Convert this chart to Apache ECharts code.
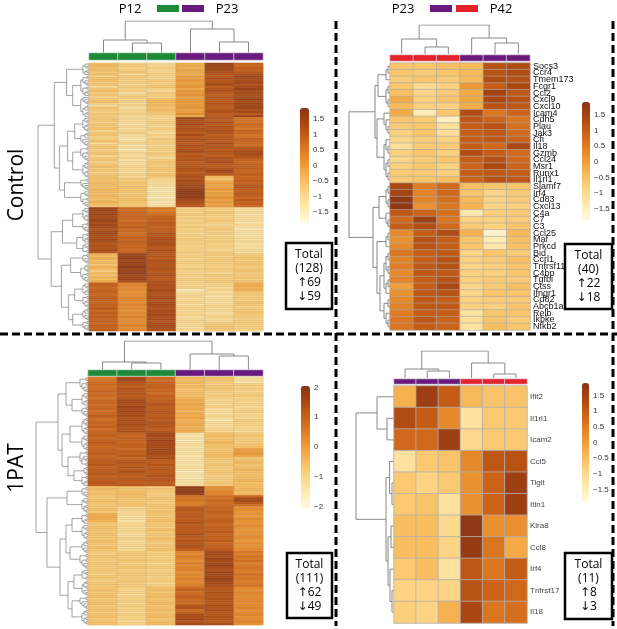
<!DOCTYPE html>
<html>
<head>
<meta charset="utf-8">
<script src="https://cdn.jsdelivr.net/npm/echarts@6.0.0/dist/echarts.min.js"></script>
<style>
  html, body { margin: 0; padding: 0; background: #fff; }
  #chart { width: 617px; height: 629px; }
</style>
</head>
<body>
<div id="chart"></div>
<script>
// ---- data (z-scores, row by row, top to bottom) ----
const groupNames = ['P12', 'P23', 'P42'];
const groupColors = ['#1c8a37', '#6a1a7e', '#e3222b'];
const colLabels = ['1', '2', '3', '4', '5', '6'];

// Control, all genes (128 rows)
const ctrlAllGroups = ['P12', 'P12', 'P12', 'P23', 'P23', 'P23'];
const ctrlAllValues = [
  [-0.5,-0.8,-0.9,-0.3,1.5,0.9], [-0.4,-0.7,-1.0,-0.2,1.6,0.8], [-0.6,-0.9,-0.8,-0.3,1.4,1.0], [-0.5,-0.8,-1.0,-0.1,1.5,0.9],
  [-0.7,-0.6,-0.9,-0.2,1.3,1.1], [-0.5,-1.0,-0.8,-0.3,1.2,1.3], [-0.9,-0.7,-0.9,0.0,1.1,1.5], [-0.6,-0.8,-1.0,-0.1,1.3,1.4],
  [-0.5,-0.9,-0.7,0.1,1.1,1.3], [-0.8,-0.8,-0.9,-0.1,1.2,1.5], [-0.6,-1.1,-0.8,0.0,1.4,1.2], [-1.1,-0.7,-0.6,0.1,1.0,1.4],
  [-0.7,-0.9,-0.9,-0.2,1.2,1.6], [-0.5,-0.8,-1.1,0.1,1.3,1.3], [-0.8,-1.2,-0.7,0.0,1.1,1.5], [-0.6,-0.9,-0.8,0.2,1.0,1.3],
  [-0.9,-0.7,-0.9,-0.1,1.2,1.4], [-0.7,-1.0,-0.5,0.0,1.1,1.6], [-0.5,-0.8,-0.4,0.1,1.0,1.3], [-0.8,-1.1,-0.5,-0.1,1.2,1.5],
  [-1.2,-0.8,-0.4,0.0,1.1,1.4], [-0.6,-1.3,-0.6,0.1,1.0,1.6], [-0.7,-0.9,-0.5,-0.1,1.2,1.2], [-0.9,-1.0,-0.6,0.0,1.3,1.5],
  [-0.6,-0.8,-0.7,0.2,1.0,1.1], [-0.8,-1.1,-0.9,-0.2,1.1,1.6],
  [-0.7,-0.9,-1.0,1.6,1.2,0.6], [-0.6,-1.1,-0.9,1.3,1.0,0.7], [-0.9,-1.0,-0.8,1.2,1.3,0.6], [-0.6,-1.3,-0.9,1.4,1.0,0.8],
  [-0.8,-0.9,-1.1,1.1,1.2,0.7], [-0.5,-1.2,-0.8,1.3,1.1,0.5], [-1.0,-1.0,-0.9,1.2,1.3,0.9], [-0.7,-0.8,-1.2,1.0,1.2,0.8],
  [-0.6,-1.2,-0.8,1.4,1.0,0.6], [-0.9,-1.1,-1.0,1.1,1.1,0.7], [-0.8,-1.4,-0.7,1.3,1.2,1.0], [-0.5,-1.0,-0.9,1.2,1.0,0.9],
  [-1.1,-0.9,-0.8,1.0,1.3,0.8], [-0.7,-1.3,-1.0,1.3,1.1,0.7], [-0.6,-1.0,-0.9,1.1,1.2,1.1], [-0.9,-1.5,-0.8,1.2,1.0,1.2],
  [-0.8,-1.1,-1.0,1.4,1.2,1.3], [-0.6,-1.0,-0.7,1.0,1.1,1.4], [-1.0,-1.2,-0.9,1.2,1.0,1.2], [-0.7,-0.9,-1.1,1.1,1.3,1.1],
  [-0.6,-1.3,-0.8,1.3,1.2,0.9], [-0.9,-1.0,-0.6,1.0,1.4,0.8], [-0.7,-1.2,-0.7,1.2,1.1,1.0], [-0.5,-0.9,-0.8,1.1,1.0,0.9],
  [-0.8,-1.1,-0.6,1.3,1.2,1.0], [-0.6,-1.0,-0.7,1.2,1.5,0.8], [-0.9,-1.2,-0.8,1.0,1.3,0.9], [-0.7,-0.9,-0.6,1.2,1.0,1.0],
  [-0.6,-1.1,-0.7,1.3,-0.4,0.8],
  [-0.5,-0.7,-0.9,1.2,-0.6,0.9], [-0.6,-0.8,-1.0,1.4,-0.3,1.0], [-0.4,-0.6,-1.1,1.3,0.0,0.9], [-0.5,-0.7,-1.0,1.5,-0.2,1.1],
  [-0.6,-0.5,-1.3,1.4,-0.1,1.2], [-0.4,-0.7,-1.2,1.6,0.1,1.0], [-0.5,-0.6,-1.4,1.7,-0.2,0.9], [-0.6,-0.8,-1.2,1.8,0.0,1.1],
  [-0.4,-0.6,-1.3,1.6,-0.1,1.0], [-0.5,-0.7,-1.5,1.7,0.2,0.8], [-0.6,-0.5,-1.2,1.4,-0.1,1.1], [-0.3,-0.6,-1.4,1.3,0.1,0.9],
  [-0.5,-0.7,-1.3,1.2,-0.2,1.0], [-0.6,-0.6,-1.1,1.1,0.0,0.8],
  [1.5,0.8,0.6,-0.9,-0.8,-1.1], [1.6,0.7,0.5,-0.8,-0.9,-1.2], [1.4,0.9,0.6,-0.9,-0.7,-1.0], [1.5,0.8,0.7,-0.7,-0.8,-1.3],
  [1.3,0.9,0.9,-0.9,-0.9,-1.1], [1.4,0.8,1.0,-0.8,-0.8,-1.2], [1.6,0.7,0.9,-1.0,-0.7,-1.1], [1.3,0.9,1.1,-0.8,-0.9,-1.3],
  [1.5,0.8,1.0,-0.9,-1.0,-1.0], [1.4,1.0,0.9,-0.7,-0.8,-1.2], [1.2,0.8,1.1,-0.9,-0.7,-1.4], [1.4,0.9,1.0,-0.8,-0.9,-1.1],
  [1.5,0.7,1.2,-1.0,-0.8,-1.2], [1.3,0.8,1.1,-0.8,-1.0,-1.3], [1.2,0.9,1.2,-0.9,-0.8,-1.1], [1.4,0.8,1.3,-0.7,-0.9,-1.2],
  [1.3,1.0,1.2,-0.9,-0.7,-1.0], [1.1,0.9,1.3,-0.8,-0.9,-1.3], [1.3,0.8,1.2,-1.0,-0.8,-1.1], [1.2,0.9,1.1,-0.8,-0.9,-1.2],
  [1.4,0.8,1.3,-0.9,-1.0,-1.0], [1.2,1.0,1.2,-0.7,-0.8,-1.2],
  [-0.3,1.6,1.1,-0.9,-0.7,-0.8], [-0.5,1.5,1.2,-0.8,-0.9,-0.7], [-0.2,1.7,1.0,-1.0,-0.8,-0.6], [-0.6,1.4,1.3,-0.9,-0.7,-0.8],
  [-0.4,1.6,1.2,-0.8,-0.9,-0.7], [-0.7,1.5,1.1,-0.9,-0.8,-0.6], [-0.3,1.8,1.2,-1.0,-0.9,-0.8], [-0.5,1.5,1.3,-0.8,-0.7,-0.7],
  [-0.8,1.6,1.1,-0.9,-0.8,-0.6], [-0.4,1.7,1.2,-0.9,-1.0,-0.8], [-0.6,1.4,1.3,-0.8,-0.7,-0.7], [-0.3,1.5,1.2,-1.0,-0.9,-0.6],
  [-0.5,1.6,1.1,-0.8,-0.8,-0.8], [-0.2,1.3,1.3,-0.9,-0.7,-0.6],
  [0.9,0.3,1.2,-0.9,-0.9,-0.3], [1.0,0.4,1.3,-1.0,-1.0,-0.2], [0.8,0.2,1.2,-0.8,-1.1,-0.4], [0.9,0.3,1.4,-1.5,-0.9,-0.3],
  [1.0,0.1,1.3,-1.1,-1.2,-0.6], [0.8,0.3,1.2,-1.0,-1.0,-0.7], [0.9,0.2,1.3,-0.9,-1.3,-0.8], [1.1,0.4,1.4,-1.1,-1.0,-0.7],
  [0.9,0.3,1.2,-1.0,-1.1,-0.8], [0.8,0.2,1.3,-0.9,-1.2,-0.6], [1.0,0.4,1.4,-1.2,-1.0,-0.7], [0.9,0.2,1.3,-1.0,-0.9,-0.9],
  [1.1,0.3,1.2,-0.9,-1.1,-0.8], [0.8,0.1,1.4,-1.1,-1.0,-0.7], [1.0,0.3,1.3,-1.0,-1.2,-0.6], [0.9,0.2,1.5,-0.9,-1.0,-0.8],
  [1.1,0.4,1.3,-1.2,-0.9,-0.7], [0.9,0.2,1.4,-1.0,-1.1,-0.9], [1.0,0.3,1.2,-0.9,-1.0,-0.7], [0.8,0.2,1.3,-1.1,-0.8,-0.8],
  [1.0,0.4,1.4,-1.0,-0.7,-0.9], [0.9,0.2,1.3,-1.2,-0.6,-0.8], [1.0,0.3,1.2,-1.0,-0.7,-0.9]
];
// dendrograms: leaf = 0, [a, b] = merge, [h, a, b] = merge at height h
const ctrlAllRowTree = [25,
  [17,
    [11,
      [[0,[0,0]],[[0,0],0]],
      [8, [[[0,0],[0,[0,0]]],[[0,0],[[0,0],0]]], [[0,[0,[0,0]]],[[[0,0],0],[[0,0],0]]]]],
    [14.5,
      [10.5,
        [7, [[0,[0,0]],[[0,0],[0,0]]], [[[0,0],0],[0,[0,[0,0]]]]],
        [8, [[0,0],[[0,0],[0,[0,0]]]], [[[0,0],[0,0]],[[0,0],[0,0]]]]],
      [12, [[0,0],[0,[0,[0,0]]]], [[0,[0,0]],[[0,0],[0,[0,0]]]]]]],
  [18.5,
    [13,
      [8, [[0,[0,0]],[[0,0],[0,0]]], [[0,0],[0,[0,0]]]],
      [6, [[0,0],[[0,0],0]], [[0,[0,0]],[0,0]]]],
    [13.5,
      [9, [[0,0],[0,[0,0]]], [[[0,0],[0,0]],[[0,0],[0,[0,0]]]]],
      [10,
        [7, [[0,[0,0]],[[0,0],0]], [[0,0],[[0,0],[0,0]]]],
        [8, [[[0,0],0],[0,[0,0]]], [[0,0],[0,[0,0]]]]]]]
];
const ctrlAllColTree = [32, [13, 0, [10, 0, 0]], [24, 0, [11, 0, 0]]];

// Control, selected genes (40 rows)
const ctrlSelGroups = ['P42', 'P42', 'P42', 'P23', 'P23', 'P23'];
const ctrlSelGenes = ['Socs3','Ccr4','Tmem173','Fcgr1','Ccl2','Cxcl9','Cxcl10','Icam4','Cdh5','Plau',
  'Jak3','Cfi','Il18','Gzmb','Ccl24','Msr1','Runx1','Il1rl1','Slamf7','Irf4',
  'Cd83','Cxcl13','C4a','C7','C3','Ccl25','Maf','Prkcd','Bid','Ccrl1',
  'Tnfrsf11','C4bp','Tgfbi','Ctss','Ifngr1','Cd82','Abcb1a','Relb','Ikbke','Nfkb2'];
const ctrlSelValues = [
  [-0.6,-0.6,-0.5,-0.4,1.2,1.3], [-0.6,-0.7,-0.6,-0.4,1.2,1.3], [-0.7,-0.6,-0.7,-0.4,1.3,1.2], [-0.6,-1.0,-0.8,0.1,1.0,1.4],
  [-0.5,-0.9,-0.7,-0.2,1.5,1.1], [-0.2,-0.8,-0.6,-0.1,1.4,1.2], [-0.4,-0.8,-0.8,-0.2,1.2,1.1], [-0.2,-1.4,-0.6,1.3,0.6,0.9],
  [-0.6,-0.7,-1.5,1.1,0.9,0.6], [-0.7,-0.6,-1.1,1.0,1.2,0.7], [-0.8,-0.6,-1.1,1.0,1.1,0.8], [-0.9,-0.7,-0.8,1.0,1.1,0.9],
  [-1.1,-0.7,-0.7,1.0,0.8,1.4], [-0.8,-0.6,-0.8,1.3,1.0,0.8], [-0.9,-0.7,-0.6,1.0,1.2,0.8], [-0.8,-0.6,-0.8,0.9,1.4,0.9],
  [-0.7,-0.7,-0.8,1.0,1.1,1.0], [-0.7,-0.6,-0.5,0.9,1.2,1.1], [1.4,0.5,0.8,-0.5,-0.6,-0.6], [1.5,0.4,0.8,-0.6,-0.9,-0.7],
  [1.8,0.4,0.7,-0.4,-0.9,-0.7], [1.8,0.2,0.6,-0.3,-0.9,-0.8], [1.1,0.9,0.7,-1.3,-0.8,-0.7], [0.8,1.6,0.6,-0.8,-0.8,-0.7],
  [1.0,1.3,0.8,-0.7,-0.8,-0.6], [0.3,1.0,1.3,-0.3,-1.6,-0.4], [0.2,1.2,1.0,-0.6,-1.4,-0.5], [0.3,1.2,1.0,-0.6,-1.3,-0.5],
  [0.6,1.0,1.1,-0.9,-0.6,-0.7], [0.4,1.0,1.2,-0.8,-0.7,-0.5], [0.5,1.1,1.2,-0.9,-0.8,-0.6], [0.3,1.1,1.1,-0.8,-0.8,-0.6],
  [0.4,1.0,1.2,-0.8,-0.7,-0.7], [0.0,1.0,1.4,-0.9,-0.7,-0.5], [0.2,1.1,1.2,-0.9,-0.6,-0.6], [0.3,1.1,1.0,-0.8,-0.7,-0.7],
  [0.4,1.1,1.1,-0.8,-0.8,-0.6], [0.5,1.0,1.0,-1.2,-0.6,-0.6], [0.6,1.1,0.9,-1.1,-0.6,-0.7], [0.6,1.0,0.9,-1.2,-0.5,-0.6]
];
const ctrlSelRowTree = [20.5,
  [7.5,
    [6, [[0,0],0], [[0,0],[0,0]]],
    [6.5, [0,[0,[0,0]]], [[0,[0,0]],[[0,0],[0,0]]]]],
  [8.5,
    [5.5, [[0,0],[0,0]], [0,[0,0]]],
    [6.5, [[0,0],0], [5, [[[0,0],[0,0]],[[0,0],0]], [[0,0],[0,[0,0]]]]]]
];
const ctrlSelColTree = [29, [15, 0, [7, 0, 0]], [16, 0, [11, 0, 0]]];

// 1PAT, all genes (111 rows)
const patAllGroups = ['P12', 'P12', 'P12', 'P23', 'P23', 'P23'];
const patAllValues = [
  [0.6,1.5,0.9,-0.5,-0.6,-1.3], [0.7,1.6,0.8,-0.6,-0.7,-1.2], [0.8,1.4,1.0,-0.4,-0.8,-1.4], [0.9,1.2,1.0,-0.6,-0.9,-0.9],
  [0.7,1.1,1.1,-0.5,-0.8,-1.0], [0.8,1.3,0.9,-0.7,-0.7,-0.8], [1.0,1.2,1.0,-0.6,-0.9,-1.1], [0.8,1.4,0.8,-0.5,-1.0,-0.9],
  [0.9,1.1,1.1,-0.7,-0.8,-0.8], [0.7,1.3,1.0,-0.4,-0.9,-1.0],
  [0.9,1.5,1.1,-0.2,-1.1,-0.9], [1.0,1.6,1.2,-0.3,-1.0,-1.1], [0.8,1.4,1.3,-0.1,-1.2,-1.0], [0.9,1.7,1.1,-0.3,-0.9,-1.2],
  [1.0,1.5,1.2,-0.2,-1.3,-1.0], [0.8,1.6,1.3,-0.4,-1.1,-0.9], [0.9,1.4,1.2,-0.2,-1.4,-1.1], [1.1,1.5,1.1,-0.3,-1.0,-1.0],
  [0.9,1.3,1.3,-0.1,-1.2,-1.2], [0.8,1.6,1.2,-0.4,-1.5,-0.8], [1.0,1.4,1.4,-0.3,-1.1,-1.0], [0.9,1.5,1.2,-0.2,-1.3,-0.9],
  [1.1,1.3,1.3,-0.4,-1.2,-1.1], [0.8,1.4,1.1,-0.3,-1.0,-1.0], [1.0,1.5,1.3,-0.2,-1.1,-1.2],
  [1.0,1.0,1.5,-1.4,-0.6,-0.8], [1.1,0.9,1.6,-1.5,-0.5,-0.7], [0.9,1.1,1.4,-1.3,-0.7,-0.9], [1.0,1.0,1.7,-1.6,-0.6,-0.8],
  [1.2,0.9,1.5,-1.4,-0.4,-0.9], [1.0,1.1,1.6,-1.2,-0.7,-0.7], [0.9,1.0,1.5,-1.5,-0.6,-0.6], [1.1,0.9,1.7,-1.3,-0.8,0.0],
  [1.0,1.1,1.5,-1.4,-0.7,-0.1], [1.2,1.0,1.6,-1.2,-0.6,0.1], [0.9,1.2,1.4,-1.5,-0.5,-0.2], [1.1,0.9,1.5,-1.3,-0.7,-0.8],
  [1.2,1.2,1.2,-1.4,-0.8,-0.6], [1.1,1.3,1.1,-1.3,-0.9,-0.5], [1.3,1.1,1.3,-1.5,-0.7,-0.7], [1.0,1.3,1.2,-1.2,-0.8,-0.6],
  [1.2,1.2,1.3,-1.4,-0.9,-0.4], [1.1,1.4,1.1,-1.6,-0.7,-0.6], [1.3,1.2,1.2,-1.3,-0.8,-0.7], [1.0,1.1,1.4,-1.4,-1.0,-0.5],
  [1.2,1.3,1.2,-1.5,-0.8,-0.6], [1.1,1.2,1.3,-1.3,-0.9,-0.4], [1.3,1.1,1.1,-1.4,-0.7,-0.6], [1.1,1.2,1.2,-1.2,-0.8,-0.5],
  [-0.6,-0.6,-0.8,1.9,0.3,-0.5], [-0.5,-0.7,-0.7,1.8,0.2,-0.4], [-0.7,-0.6,-0.8,1.9,0.4,-0.6], [-0.6,-0.5,-0.9,1.7,0.3,-0.5],
  [-0.7,-0.6,-0.8,0.8,0.8,0.9], [-0.8,-0.7,-0.7,0.6,0.7,1.5], [-0.6,-0.8,-0.8,0.7,0.9,1.6], [-0.7,-0.7,-0.9,0.5,0.8,1.2],
  [-0.8,-0.6,-0.7,0.6,0.9,0.8],
  [-0.7,-1.1,-0.7,1.2,1.0,0.2], [-0.6,-1.0,-0.8,1.3,0.9,0.3], [-0.8,-1.2,-0.6,1.1,1.1,0.1], [-0.3,-1.1,-0.7,1.2,1.0,0.2],
  [-0.2,-1.3,-0.8,1.3,0.9,0.0], [-0.3,-1.2,-0.7,1.1,1.0,0.3], [-0.4,-1.4,-0.6,1.2,1.1,0.2], [-0.7,-1.1,-0.8,1.4,1.0,0.1],
  [-0.8,-1.0,-0.7,1.2,0.9,0.3], [-0.6,-1.2,-0.9,1.3,1.1,0.2], [-0.7,-1.1,-0.6,1.1,1.0,0.0], [-0.8,-1.0,-0.8,1.2,1.2,0.2],
  [-0.6,-1.3,-0.7,1.4,1.0,0.1], [-0.7,-1.1,-0.8,1.2,1.1,0.3], [-0.8,-1.0,-0.6,1.1,1.0,0.2], [-0.6,-1.2,-0.7,1.3,1.2,0.0],
  [-0.7,-1.1,-0.9,1.2,0.9,0.3], [-0.8,-1.0,-0.7,1.4,1.1,0.1], [-0.6,-1.2,-0.8,1.2,1.0,0.2], [-0.7,-1.1,-0.6,1.1,1.2,0.3],
  [-0.8,-0.8,-0.9,0.4,1.5,0.6], [-0.9,-0.7,-0.8,0.3,1.6,0.5], [-0.7,-0.9,-1.0,0.5,1.4,0.7], [-0.8,-0.8,-0.9,0.4,1.7,0.6],
  [-0.9,-0.7,-0.8,0.2,1.5,0.8], [-0.7,-0.9,-1.1,0.5,1.6,0.5], [-0.8,-0.8,-0.9,0.3,1.8,0.6], [-0.9,-0.7,-0.8,0.4,1.5,0.7],
  [-0.7,-0.9,-1.0,0.5,1.4,0.6], [-0.8,-0.8,-0.9,0.3,1.7,0.5], [-0.9,-0.7,-0.8,0.4,1.6,0.8], [-0.7,-0.9,-1.0,0.2,1.5,0.6],
  [-0.8,-0.8,-0.9,0.5,1.8,0.7], [-0.9,-0.7,-0.8,0.3,1.6,0.5], [-0.7,-0.9,-1.1,0.4,1.5,0.6], [-0.8,-0.8,-0.9,0.5,1.4,0.7],
  [-0.7,-0.9,-0.6,0.9,1.3,0.3], [-0.6,-1.0,-0.5,1.0,1.2,0.2], [-0.8,-0.9,-0.7,0.8,1.4,0.4], [-0.7,-1.2,-0.6,0.9,1.3,0.3],
  [-0.6,-0.9,-0.5,1.1,1.2,0.2], [-0.8,-1.0,-0.7,0.9,1.4,0.3], [-0.7,-0.9,-0.6,1.0,1.3,0.4], [-0.6,-1.1,-0.5,0.8,1.2,0.2],
  [-0.8,-0.9,-0.7,1.3,1.4,0.3], [-0.7,-1.0,-0.6,1.4,1.3,0.4], [-0.6,-0.9,-0.5,0.9,1.5,0.2], [-0.8,-1.1,-0.7,1.0,1.3,0.3],
  [-0.7,-0.9,-0.6,1.5,1.2,0.4], [-0.6,-1.0,-0.5,1.4,1.4,0.2], [-0.8,-0.9,-0.7,1.6,1.3,0.3], [-0.7,-1.2,-0.6,1.3,1.2,0.4],
  [-0.6,-0.9,-0.5,1.5,1.4,0.2]
];
const patAllRowTree = [26,
  [15,
    [11, [[0,0],[[0,0],[0,[0,0]]]], [8, [[0,[0,0]],[[0,0],0]], [[0,0],[0,[0,0]]]]],
    [13,
      [9, [[[0,0],[0,0]],[[0,0],[0,0]]], [[0,[0,0]],[[0,0],[0,0]]]],
      [10, [[0,0],[[0,[0,0]],[0,0]]], [7, [[0,0],[0,0]], [[0,0],[[0,0],0]]]]]],
  [20.5,
    [10.5, [[0,0],[0,[0,0]]], [[0,[0,0]],[[0,0],[0,0]]]],
    [14,
      [11,
        [8, [[0,0],[[0,0],0]], [[0,[0,0]],[[0,0],[0,0]]]],
        [9, [[[0,0],0],[0,[0,0]]], [[0,0],[[0,0],[0,[0,0]]]]]],
      [10,
        [7, [[0,[0,0]],[0,0]], [[[0,0],[0,0]],[0,[0,0]]]],
        [8, [[0,0],[0,[0,[0,0]]]], [[[0,0],0],[[0,0],[0,0]]]]]]]
];
const patAllColTree = [29, [8, 0, [7, 0, 0]], [16, 0, [14, 0, 0]]];

// 1PAT, selected genes (11 rows)
const patSelGroups = ['P23', 'P23', 'P23', 'P42', 'P42', 'P42'];
const patSelGenes = ['Ifit2','Il1rl1','Icam2','Ccl5','Tigit','Itln1','Klra8','Ccl8','Irf4','Tnfrsf17','Il18'];
const patSelValues = [
  [-0.3,1.6,1.0,-0.4,-0.6,-0.6], [1.3,1.0,0.3,-1.2,-0.7,-0.7], [0.8,0.8,1.6,-1.0,-0.7,-0.7],
  [-1.2,-0.7,-0.6,0.3,1.1,1.2], [-0.7,-0.9,-0.7,0.2,0.9,1.6], [-0.7,-0.6,-1.2,0.2,0.9,1.6],
  [-0.5,-0.5,-1.0,1.8,0.2,0.2], [-0.5,-0.5,-0.9,1.7,0.6,-0.2], [-0.7,-0.5,-1.2,1.1,0.6,1.0],
  [-0.9,-0.9,-0.9,1.2,0.9,0.8], [-0.8,-0.9,-0.3,1.4,0.6,0.7]
];
const patSelRowTree = [19, [8.5, 0, [3.5, 0, 0]], [4, [2.2, 0, [1, 0, 0]], [3, [1.5, 0, 0], [2, 0, [1, 0, 0]]]]];
const patSelColTree = [27, [9, 0, [7, 0, 0]], [15, 0, [4, 0, 0]]];

const ticksHalf = [1.5, 1, 0.5, 0, -0.5, -1, -1.5];
const ticksWhole = [2, 1, 0, -1, -2];

const ramp = ['#fffbe2', '#feebb2', '#fcd789', '#f8bd5e', '#f09d37', '#e07d23', '#c85f17', '#a84612', '#893414'];

// ---- layout helpers ----
function dendro(tree) {
  let leaf = 0;
  const segs = [];
  function walk(n) {
    if (!Array.isArray(n)) return { p: leaf++, h: 0 };
    let h = null, kids = n;
    if (n.length === 3 && typeof n[0] === 'number' && n[0] > 0) { h = n[0]; kids = n.slice(1); }
    const a = walk(kids[0]), b = walk(kids[1]);
    if (h === null) h = Math.max(a.h, b.h) + 1;
    segs.push([[a.h, a.p], [h, a.p], [h, b.p], [b.h, b.p]]);
    return { p: (a.p + b.p) / 2, h: h };
  }
  const root = walk(tree);
  return { segs: segs, n: leaf, h: root.h };
}

const grids = [], xAxes = [], yAxes = [], series = [], visualMaps = [], annSeries = [];
function addGrid(box, xa, ya) {
  grids.push(Object.assign({ containLabel: false }, box));
  const gi = grids.length - 1;
  xAxes.push(Object.assign({ gridIndex: gi }, xa));
  yAxes.push(Object.assign({ gridIndex: gi }, ya));
  return gi;
}
const minus = v => String(v).replace('-', '\u2212');

function panel(p) {
  const rowD = dendro(p.rowTree), colD = dendro(p.colTree);
  const lineStyle = { color: '#7c7c7c', width: p.lineW, opacity: 1 };

  const g1 = addGrid(p.rowBox,
    { type: 'value', show: false, min: 0, max: rowD.h, inverse: true },
    { type: 'value', show: false, min: -0.5, max: rowD.n - 0.5, inverse: true });
  series.push({ type: 'lines', coordinateSystem: 'cartesian2d', xAxisIndex: g1, yAxisIndex: g1,
    polyline: true, silent: true, lineStyle: lineStyle, data: rowD.segs.map(s => ({ coords: s })) });

  const g2 = addGrid(p.colBox,
    { type: 'value', show: false, min: -0.5, max: colLabels.length - 0.5 },
    { type: 'value', show: false, min: 0, max: colD.h });
  series.push({ type: 'lines', coordinateSystem: 'cartesian2d', xAxisIndex: g2, yAxisIndex: g2,
    polyline: true, silent: true, lineStyle: { color: '#7c7c7c', width: 0.9, opacity: 1 },
    data: colD.segs.map(s => ({ coords: s.map(c => [c[1], c[0]]) })) });

  const g3 = addGrid(p.annBox,
    { type: 'category', show: false, data: colLabels },
    { type: 'category', show: false, data: ['group'] });
  series.push({ type: 'heatmap', xAxisIndex: g3, yAxisIndex: g3, silent: true,
    itemStyle: { borderColor: '#e6e6e6', borderWidth: 0.7 },
    data: p.groups.map((g, i) => [i, 0, groupNames.indexOf(g)]) });
  annSeries.push(series.length - 1);

  const labelled = !!p.genes;
  const g4 = addGrid(p.heatBox,
    { type: 'category', show: false, data: colLabels },
    { type: 'category', inverse: true, position: 'right',
      data: labelled ? p.genes : p.values.map((r, i) => 'g' + i),
      axisLine: { show: false }, axisTick: { show: false },
      axisLabel: labelled ? { show: true, interval: 0, margin: 3, fontSize: p.labelSize, color: p.labelColor,
        fontFamily: 'Liberation Sans' } : { show: false } });
  const data = [];
  p.values.forEach((r, i) => r.forEach((v, j) => data.push([j, i, v])));
  series.push({ type: 'heatmap', xAxisIndex: g4, yAxisIndex: g4, silent: true, data: data,
    itemStyle: { borderColor: p.cellBorder, borderWidth: p.cellBorderW } });

  visualMaps.push({ type: 'continuous', seriesIndex: series.length - 1, dimension: 2,
    min: p.range[0], max: p.range[1], calculable: false, hoverLink: false,
    left: p.cbar.left, top: p.cbar.top, itemWidth: p.cbar.width, itemHeight: p.cbar.height,
    padding: 0, inRange: { color: ramp } });

  addGrid(p.cbar,
    { type: 'value', show: false, min: 0, max: 1 },
    { type: 'value', min: p.range[0], max: p.range[1], position: 'right',
      splitLine: { show: false }, axisLine: { show: false }, axisTick: { show: false },
      axisLabel: { customValues: p.ticks, margin: 4, fontSize: 8, color: '#333',
        fontFamily: 'Liberation Sans', formatter: minus } });
}

panel({ values: ctrlAllValues, groups: ctrlAllGroups, rowTree: ctrlAllRowTree, colTree: ctrlAllColTree,
  rowBox: { left: 38, top: 63, width: 51, height: 268 }, heatBox: { left: 89, top: 63, width: 174, height: 268 },
  colBox: { left: 89, top: 21, width: 174, height: 32 }, annBox: { left: 89, top: 53, width: 174, height: 7 },
  cbar: { left: 300, top: 108, width: 9, height: 115 }, range: [-1.85, 1.85], ticks: ticksHalf,
  lineW: 0.7, cellBorder: 'rgba(150,150,150,0.45)', cellBorderW: 0.4 });
panel({ values: ctrlSelValues, groups: ctrlSelGroups, genes: ctrlSelGenes, rowTree: ctrlSelRowTree, colTree: ctrlSelColTree,
  rowBox: { left: 349, top: 63, width: 41, height: 267 }, heatBox: { left: 390, top: 63, width: 140, height: 267 },
  colBox: { left: 390, top: 25, width: 140, height: 29 }, annBox: { left: 390, top: 55, width: 140, height: 6 },
  cbar: { left: 582, top: 102, width: 8, height: 118 }, range: [-1.85, 1.9], ticks: ticksHalf,
  lineW: 0.9, cellBorder: '#a8a8a8', cellBorderW: 0.6, labelSize: 9, labelColor: '#111' });
panel({ values: patAllValues, groups: patAllGroups, rowTree: patAllRowTree, colTree: patAllColTree,
  rowBox: { left: 36, top: 377, width: 52, height: 248 }, heatBox: { left: 88, top: 377, width: 175, height: 248 },
  colBox: { left: 88, top: 341, width: 175, height: 29 }, annBox: { left: 88, top: 370, width: 175, height: 6 },
  cbar: { left: 301, top: 386, width: 9, height: 122 }, range: [-2.05, 2.05], ticks: ticksWhole,
  lineW: 0.7, cellBorder: 'rgba(150,150,150,0.45)', cellBorderW: 0.4 });
panel({ values: patSelValues, groups: patSelGroups, genes: patSelGenes, rowTree: patSelRowTree, colTree: patSelColTree,
  rowBox: { left: 356, top: 386, width: 38, height: 237 }, heatBox: { left: 394, top: 386, width: 133, height: 237 },
  colBox: { left: 394, top: 351, width: 133, height: 27 }, annBox: { left: 394, top: 379, width: 133, height: 5 },
  cbar: { left: 582, top: 383, width: 7, height: 119 }, range: [-1.9, 1.9], ticks: ticksHalf,
  lineW: 0.9, cellBorder: '#b0b0b0', cellBorderW: 0.8, labelSize: 8, labelColor: '#444' });

visualMaps.push({ type: 'piecewise', show: false, seriesIndex: annSeries, dimension: 2,
  pieces: groupNames.map((g, i) => ({ value: i, color: groupColors[i] })) });

// ---- annotations drawn on top ----
const dash = { stroke: '#000', lineWidth: 3, lineDash: [8, 4] };
function txt(x, y, s, size, extra) {
  return Object.assign({ type: 'text', x: x, y: y, z: 10,
    style: { text: s, font: size + 'px "Open Sans", "DejaVu Sans", sans-serif', fill: '#000',
      align: 'center', verticalAlign: 'middle', textAlign: 'center', textVerticalAlign: 'middle' } }, extra || {});
}
function swatch(x, color) {
  return { type: 'rect', shape: { x: x, y: 5, width: 22, height: 7 }, style: { fill: color }, z: 10 };
}
function totalBox(x, y, w, h, lines) {
  const out = [{ type: 'rect', z: 20, shape: { x: x, y: y, width: w, height: h },
    style: { fill: '#fff', stroke: '#000', lineWidth: 2.5 } }];
  lines.forEach((s, i) => out.push(Object.assign(txt(x + w / 2, y + 12 + i * 14, s, 12), { z: 21 })));
  return out;
}
const graphics = [].concat(
  [
    { type: 'line', shape: { x1: 0, y1: 334, x2: 617, y2: 334 }, style: dash, z: 5 },
    { type: 'line', shape: { x1: 336, y1: 21, x2: 336, y2: 626 }, style: dash, z: 5 },
    { type: 'line', shape: { x1: 613, y1: 21, x2: 613, y2: 626 }, style: dash, z: 5 },
    txt(130, 9, 'P12', 13), swatch(157, groupColors[0]), swatch(182, groupColors[1]), txt(227, 9, 'P23', 13),
    txt(403, 9, 'P23', 13), swatch(430, groupColors[1]), swatch(456, groupColors[2]), txt(501, 9, 'P42', 13),
    txt(17, 185, 'Control', 21, { rotation: Math.PI / 2 }),
    txt(17, 468, '1PAT', 21, { rotation: Math.PI / 2 })
  ],
  totalBox(286, 243, 46, 66, ['Total', '(128)', '\u219169', '\u219359']),
  totalBox(565, 244, 47, 65, ['Total', '(40)', '\u219122', '\u219318']),
  totalBox(287, 553, 45, 65, ['Total', '(111)', '\u219162', '\u219349']),
  totalBox(565, 553, 47, 66, ['Total', '(11)', '\u21918', '\u21933'])
);

const chart = echarts.init(document.getElementById('chart'));
chart.setOption({
  backgroundColor: '#fff',
  animation: false,
  grid: grids,
  xAxis: xAxes,
  yAxis: yAxes,
  visualMap: visualMaps,
  series: series,
  graphic: graphics
});
</script>
</body>
</html>
